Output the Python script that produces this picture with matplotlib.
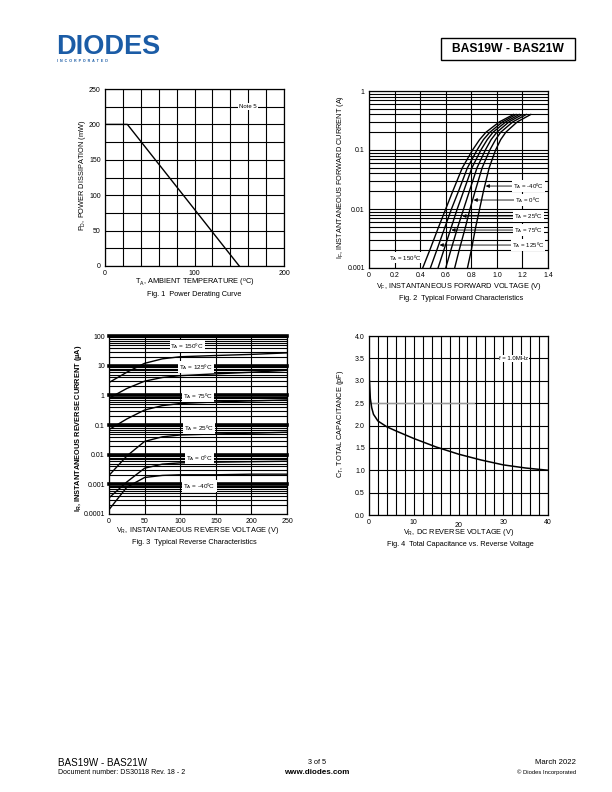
import matplotlib
matplotlib.use('Agg')
import matplotlib.pyplot as plt
from matplotlib.patches import Rectangle
import numpy as np

plt.rcParams['font.family'] = ['Liberation Sans', 'DejaVu Sans']
plt.rcParams['mathtext.fontset'] = 'custom'
plt.rcParams['mathtext.rm'] = 'Liberation Sans'
plt.rcParams['mathtext.it'] = 'Liberation Sans:italic'
plt.rcParams['mathtext.bf'] = 'Liberation Sans:bold'

# ---------------- data ----------------
# Fig 1: power derating
derate_temp = [0, 25, 150]
derate_power = [200, 200, 0]

# Fig 2: forward characteristics (I_F in A, V_F in V per temperature)
fwd_current = [0.001, 0.002, 0.005, 0.01, 0.02, 0.05, 0.1, 0.15, 0.2, 0.3, 0.4]
fwd_v_150 = [0.42, 0.475, 0.545, 0.60, 0.655, 0.73, 0.81, 0.865, 0.915, 1.02, 1.13]
fwd_v_125 = [0.48, 0.53, 0.595, 0.645, 0.70, 0.77, 0.845, 0.895, 0.945, 1.045, 1.15]
fwd_v_75 = [0.54, 0.585, 0.645, 0.69, 0.74, 0.805, 0.875, 0.925, 0.97, 1.07, 1.175]
fwd_v_25 = [0.60, 0.64, 0.695, 0.74, 0.785, 0.845, 0.91, 0.955, 1.0, 1.095, 1.20]
fwd_v_0 = [0.67, 0.705, 0.755, 0.79, 0.83, 0.885, 0.945, 0.99, 1.03, 1.125, 1.23]
fwd_v_m40 = [0.77, 0.80, 0.835, 0.865, 0.895, 0.94, 0.99, 1.03, 1.07, 1.16, 1.265]

# Fig 3: reverse characteristics (I_R in uA vs V_R in V)
rev_voltage = [0, 25, 50, 75, 100, 150, 200, 250]
rev_i_150 = [2.7, 6.0, 12.0, 17.0, 20.0, 22.0, 24.0, 27.0]
rev_i_125 = [0.8, 1.7, 3.0, 4.0, 4.6, 5.3, 6.0, 7.0]
rev_i_75 = [0.07, 0.16, 0.32, 0.45, 0.53, 0.60, 0.65, 0.70]
rev_i_25 = [0.002, 0.009, 0.028, 0.040, 0.046, 0.050, 0.053, 0.057]
rev_i_0 = [0.00035, 0.0012, 0.0035, 0.0048, 0.0053, 0.0056, 0.0058, 0.006]
rev_i_m40 = [0.00014, 0.0008, 0.0017, 0.0020, 0.0021, 0.0021, 0.0022, 0.0022]

# Fig 4: capacitance
cap_voltage = [0.1, 0.3, 0.6, 1, 2, 4, 6, 10, 15, 20, 25, 30, 35, 40]
cap_pf = [3.0, 2.6, 2.4, 2.25, 2.1, 1.97, 1.88, 1.71, 1.52, 1.36, 1.23, 1.12, 1.05, 1.0]

W, H = 612, 792
fig = plt.figure(figsize=(W / 100, H / 100), dpi=100)


def T(x, y, s, **kw):
    return fig.text(x / W, 1 - y / H, s, **kw)


def make_ax(x0, y0, x1, y1):
    ax = fig.add_axes([x0 / W, 1 - y1 / H, (x1 - x0) / W, (y1 - y0) / H])
    for sp in ax.spines.values():
        sp.set_linewidth(0.9)
    ax.tick_params(which='both', length=0, labelsize=5, pad=3)
    return ax


GRID = dict(color='black', lw=0.8)
LAB = 5.3
box = dict(boxstyle='square,pad=0.15', fc='white', ec='none')

# ---------------- header ----------------
T(56, 53.5, 'DIODES', fontsize=19.5, fontweight='bold', color='#1b5ca6', va='baseline')
T(57, 60.5, 'I  N  C  O  R  P  O  R  A  T  E  D', fontsize=2.6, fontweight='bold', color='#1b5ca6', va='center')
fig.patches.append(Rectangle((441 / W, 1 - 60 / H), 134 / W, 22 / H, transform=fig.transFigure,
                             fill=False, ec='black', lw=1.0))
T(508, 49.5, 'BAS19W - BAS21W', fontsize=8.7, fontweight='bold', ha='center', va='center')

# ---------------- Fig 1 ----------------
ax1 = make_ax(105, 89, 284, 266)
ax1.set_xlim(0, 200)
ax1.set_ylim(0, 250)
ax1.set_xticks([0, 100, 200])
ax1.set_xticks(range(0, 201, 20), minor=True)
ax1.set_yticks(range(0, 251, 50))
ax1.set_yticks(range(0, 251, 25), minor=True)
ax1.grid(which='both', **GRID)
ax1.plot(derate_temp, derate_power, color='black', lw=1.0)
ax1.text(160, 225, 'Note 5', fontsize=4.3, ha='center', va='center', bbox=box)
T(82, 175, 'P$_\\mathrm{D}$, POWER DISSIPATION (mW)', fontsize=LAB, rotation=90, ha='center', va='center')
T(194.5, 283, 'T$_\\mathrm{A}$, AMBIENT TEMPERATURE ($^\\mathrm{o}$C)', fontsize=LAB, ha='center', va='center')
T(194.5, 295, 'Fig. 1  Power Derating Curve', fontsize=LAB, ha='center', va='center')

# ---------------- Fig 2 ----------------
ax2 = make_ax(369, 91, 548, 268)
ax2.set_yscale('log')
ax2.set_xlim(0, 1.4)
ax2.set_ylim(0.001, 1)
ax2.set_xticks([0, 0.2, 0.4, 0.6, 0.8, 1.0, 1.2, 1.4])
ax2.set_xticklabels(['0', '0.2', '0.4', '0.6', '0.8', '1.0', '1.2', '1.4'])
ax2.set_yticks([0.001, 0.01, 0.1, 1])
ax2.set_yticklabels(['0.001', '0.01', '0.1', '1'])
ax2.set_yticks([m * 10.0 ** e for e in (-3, -2, -1) for m in range(2, 10)], minor=True)
ax2.set_yticklabels([], minor=True)
ax2.grid(which='both', **GRID)
for v in (fwd_v_150, fwd_v_125, fwd_v_75, fwd_v_25, fwd_v_0, fwd_v_m40):
    ax2.plot(v, fwd_current, color='black', lw=1.0)
arrow = dict(arrowstyle='-|>', color='black', lw=0.6, mutation_scale=5, shrinkA=0, shrinkB=0)
logI = np.log10(fwd_current)
for txt, curve, y in [('T$_\\mathrm{A}$ = -40ºC', fwd_v_m40, 0.0245),
                      ('T$_\\mathrm{A}$ = 0ºC', fwd_v_0, 0.0142),
                      ('T$_\\mathrm{A}$ = 25ºC', fwd_v_25, 0.0076),
                      ('T$_\\mathrm{A}$ = 75ºC', fwd_v_75, 0.0044),
                      ('T$_\\mathrm{A}$ = 125ºC', fwd_v_125, 0.00245)]:
    tipx = float(np.interp(np.log10(y), logI, curve)) + 0.008
    ax2.annotate(txt, xy=(tipx, y), xytext=(1.245, y), fontsize=4.4, ha='center', va='center',
                 bbox=box, arrowprops=arrow)
ax2.text(0.28, 0.0015, 'T$_\\mathrm{A}$ = 150ºC', fontsize=4.4, ha='center', va='center', bbox=box)
T(340, 177, 'I$_\\mathrm{F}$, INSTANTANEOUS FORWARD CURRENT (A)', fontsize=LAB, rotation=90, ha='center', va='center')
T(458.5, 287, 'V$_\\mathrm{F}$, INSTANTANEOUS FORWARD VOLTAGE (V)', fontsize=LAB, ha='center', va='center')
T(461, 298, 'Fig. 2  Typical Forward Characteristics', fontsize=LAB, ha='center', va='center')

# ---------------- Fig 3 ----------------
ax3 = make_ax(109, 336, 287, 514)
ax3.set_yscale('log')
ax3.set_xlim(0, 250)
ax3.set_ylim(0.0001, 100)
ax3.set_xticks(range(0, 251, 50))
ax3.set_yticks([0.0001, 0.001, 0.01, 0.1, 1, 10, 100])
ax3.set_yticklabels(['0.0001', '0.001', '0.01', '0.1', '1', '10', '100'])
ax3.set_yticks([m * 10.0 ** e for e in range(-4, 2) for m in range(2, 10)], minor=True)
ax3.set_yticklabels([], minor=True)
ax3.grid(which='both', **GRID)
for d in (0.001, 0.01, 0.1, 1, 10, 100):
    ax3.axhline(d, color='black', lw=2.6, zorder=1.6, clip_on=False)
for i in (rev_i_150, rev_i_125, rev_i_75, rev_i_25, rev_i_0, rev_i_m40):
    ax3.plot(rev_voltage, i, color='black', lw=1.0)
for txt, x, y in [('T$_\\mathrm{A}$ = 150ºC', 110, 47), ('T$_\\mathrm{A}$ = 125ºC', 122, 8.8),
                  ('T$_\\mathrm{A}$ = 75ºC', 125, 0.95), ('T$_\\mathrm{A}$ = 25ºC', 127, 0.078),
                  ('T$_\\mathrm{A}$ = 0ºC', 127, 0.0079), ('T$_\\mathrm{A}$ = -40ºC', 127, 0.00089)]:
    ax3.text(x, y, txt, fontsize=4.6, ha='center', va='center', bbox=box, zorder=5)
T(78, 428, 'I$_\\mathbf{R}$, INSTANTANEOUS REVERSE CURRENT (µA)', fontsize=LAB, fontweight='bold',
  rotation=90, ha='center', va='center')
T(198, 531, 'V$_\\mathrm{R}$, INSTANTANEOUS REVERSE VOLTAGE (V)', fontsize=LAB, ha='center', va='center')
T(194, 542, 'Fig. 3  Typical Reverse Characteristics', fontsize=LAB, ha='center', va='center')

# ---------------- Fig 4 ----------------
ax4 = make_ax(369, 336, 548, 515)
ax4.set_xlim(0, 40)
ax4.set_ylim(0, 4)
ax4.set_xticks(range(0, 41, 10))
ax4.set_xticks(range(0, 41, 2), minor=True)
ax4.set_yticks([0.5 * k for k in range(9)])
ax4.set_yticklabels(['%.1f' % (0.5 * k) for k in range(9)])
ax4.grid(which='both', **GRID)
ax4.xaxis.get_major_ticks()[2].set_pad(5)
ax4.plot([0, 23.5], [2.5, 2.5], color='#9a9a9a', lw=1.0)
ax4.plot([0.08, 0.08], [cap_pf[0], 3.45], color='#9a9a9a', lw=1.0)
ax4.plot(cap_voltage, cap_pf, color='black', lw=1.1)
ax4.text(32.4, 3.5, 'f = 1.0MHz', fontsize=4.3, ha='center', va='center', bbox=box)
T(341, 424, 'C$_\\mathrm{T}$, TOTAL CAPACITANCE (pF)', fontsize=LAB, rotation=90, ha='center', va='center')
T(459, 533, 'V$_\\mathrm{R}$, DC REVERSE VOLTAGE (V)', fontsize=LAB, ha='center', va='center')
T(460, 544, 'Fig. 4  Total Capacitance vs. Reverse Voltage', fontsize=LAB, ha='center', va='center')

# ---------------- footer ----------------
T(58, 763, 'BAS19W - BAS21W', fontsize=7.1, va='center')
T(58, 773, 'Document number: DS30118 Rev. 18 - 2', fontsize=5.0, va='center')
T(317, 763, '3 of 5', fontsize=5.2, ha='center', va='center')
T(317, 772.5, 'www.diodes.com', fontsize=5.8, fontweight='bold', ha='center', va='center')
T(576, 763, 'March 2022', fontsize=5.6, ha='right', va='center')
T(576, 772.5, '© Diodes Incorporated', fontsize=4.2, ha='right', va='center')

fig.savefig('out.png', dpi=100)
